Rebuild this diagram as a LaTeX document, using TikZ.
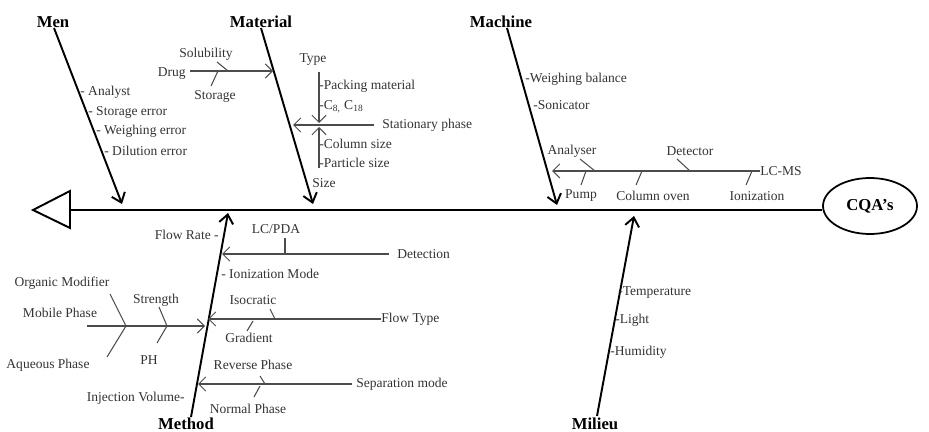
\documentclass[tikz,border=0pt]{standalone}
\usepackage{fontspec}
\setmainfont{Liberation Serif}
\usepackage{xcolor}
\usepackage{tikz}
\usetikzlibrary{shapes,arrows.meta,positioning}

\begin{document}
\begin{tikzpicture}[x=0.02cm, y=-0.02cm]
    \tikzstyle{bone} = [draw, line width=1.1pt, -{Straight Barb[length=5pt, width=8pt]}]
    \tikzstyle{branch} = [draw, line width=0.6pt, black!70, -{Straight Barb[length=4pt, width=8pt]}]
    \tikzstyle{twig} = [draw, line width=0.6pt, black!70]
    \tikzstyle{cause} = [font=\bfseries\fontsize{9.5}{11}\selectfont, inner sep=0pt]
    \tikzstyle{lbl} = [font=\fontsize{7.7}{9}\selectfont, text=black!80, inner sep=0pt]
    \tikzstyle{item} = [lbl, anchor=west]
    \useasboundingbox (0,0) rectangle (929,432);

    % head and tail
    \node [ellipse, draw, line width=1pt, minimum width=1.88cm, minimum height=1.12cm,
        font=\bfseries\fontsize{9.5}{11}\selectfont] (cqa) at (870,206) {CQA’s};
    \coordinate (tail) at (70,210);
    \draw [line width=1.1pt] (70,191) -- (33,210) -- (70,228) -- cycle;
    \path [draw, line width=1.4pt] (cqa.west |- tail) -- (tail);

    % Men
    \node [cause] (men) at (53,22) {Men};
    \coordinate (men0) at (54,28);
    \coordinate (men1) at (122,204);
    \path [bone] (men0) -- (men1);
    \node [item] (analyst) at (80,92) {- Analyst};
    \node [item] (storerr) at (88,112) {- Storage error};
    \node [item] (weigherr) at (96,131) {- Weighing error};
    \node [item] (diluerr) at (104,151) {- Dilution error};

    % Material
    \node [cause] (material) at (261,22) {Material};
    \coordinate (mat0) at (261,28);
    \coordinate (mat1) at (313,204);
    \path [bone] (mat0) -- (mat1);
    \node [lbl, anchor=east] (drug) at (186,74) {Drug};
    \coordinate (drug1) at (273,71);
    \path [branch] (drug.east |- drug1) ++(4,0) -- (drug1);
    \node [lbl] (solub) at (206,54) {Solubility};
    \node [lbl] (storage) at (215,96) {Storage};
    \coordinate (solub0) at (217,62);
    \coordinate (solub1) at (228,71);
    \coordinate (stor0) at (211,86);
    \coordinate (stor1) at (218,71);
    \path [twig] (solub0) -- (solub1);
    \path [twig] (stor0) -- (stor1);
    \node [item] (statph) at (382,125) {Stationary phase};
    \coordinate (stat1) at (293,125);
    \path [branch] (statph.west) ++(-8,0) coordinate (stat0) -- (stat1);
    \node [lbl] (type) at (313,60) {Type};
    \node [lbl] (size) at (324,183) {Size};
    \coordinate (type0) at (319,72);
    \coordinate (type1) at (319,123);
    \coordinate (size0) at (319,168);
    \coordinate (size1) at (319,127);
    \path [branch] (type0) -- (type1);
    \path [branch] (size0) -- (size1);
    \node [item] (packing) at (319,86) {-Packing material};
    \node [item] (c818) at (319,107) {-C\textsubscript{8,} C\textsubscript{18}};
    \node [item] (colsize) at (319,144) {-Column size};
    \node [item] (partsize) at (319,163) {-Particle size};

    % Machine
    \node [cause] (machine) at (501,22) {Machine};
    \coordinate (mach0) at (507,28);
    \coordinate (mach1) at (557,205);
    \path [bone] (mach0) -- (mach1);
    \node [item] (balance) at (525,79) {-Weighing balance};
    \node [item] (sonic) at (533,105) {-Sonicator};
    \node [item] (lcms) at (760,171) {LC-MS};
    \coordinate (lcms1) at (552,171);
    \path [branch] (lcms.west) -- (lcms1);
    \node [lbl] (analyser) at (572,151) {Analyser};
    \node [lbl] (detector) at (690,151) {Detector};
    \node [lbl] (pump) at (581,196) {Pump};
    \node [lbl] (colov) at (653,196) {Column oven};
    \node [lbl] (ioniz) at (757,196) {Ionization};
    \path [twig] (580,159) coordinate (an0) -- (595,171) coordinate (an1);
    \path [twig] (677,159) coordinate (de0) -- (690,171) coordinate (de1);
    \path [twig] (581,185) coordinate (pu0) -- (586,171) coordinate (pu1);
    \path [twig] (636,185) coordinate (co0) -- (642,171) coordinate (co1);
    \path [twig] (746,185) coordinate (io0) -- (752,171) coordinate (io1);

    % Method
    \node [cause] (method) at (186,424) {Method};
    \coordinate (meth0) at (191,417);
    \coordinate (meth1) at (228,213);
    \path [bone] (meth0) -- (meth1);
    \node [lbl, anchor=east] (flowrate) at (219,235) {Flow Rate -};
    \node [item] (detect) at (397,254) {Detection};
    \coordinate (det1) at (222,254);
    \path [branch] (detect.west) ++(-8,0) -- (det1);
    \node [lbl] (lcpda) at (276,229) {LC/PDA};
    \path [twig] (285,238) coordinate (pda0) -- (285,254) coordinate (pda1);
    \node [item] (ionmode) at (221,274) {- Ionization Mode};
    \node [item] (flowtype) at (381,319) {Flow Type};
    \coordinate (ft1) at (208,319);
    \path [branch] (flowtype.west) -- (ft1);
    \node [lbl] (isocr) at (253,300) {Isocratic};
    \node [lbl] (grad) at (249,338) {Gradient};
    \path [twig] (270,309) coordinate (is0) -- (275,319) coordinate (is1);
    \path [twig] (247,331) coordinate (gr0) -- (253,321) coordinate (gr1);
    \coordinate (mob0) at (87,326);
    \coordinate (mob1) at (205,326);
    \path [branch] (mob0) -- (mob1);
    \node [lbl] (orgmod) at (62,283) {Organic Modifier};
    \node [lbl] (mobph) at (60,313) {Mobile Phase};
    \node [lbl] (aqph) at (48,365) {Aqueous Phase};
    \node [lbl] (strength) at (156,300) {Strength};
    \node [lbl] (ph) at (149,360) {PH};
    \path [twig] (110,294) coordinate (om0) -- (126,326) coordinate (om1);
    \path [twig] (107,357) coordinate (aq0) -- (om1);
    \path [twig] (159,307) coordinate (st0) -- (167,326) coordinate (st1);
    \path [twig] (157,343) coordinate (ph0) -- (st1);
    \node [item] (sepmode) at (356,384) {Separation mode};
    \coordinate (sep1) at (198,384);
    \path [branch] (sepmode.west) ++(-4,0) -- (sep1);
    \node [lbl] (revph) at (253,365) {Reverse Phase};
    \node [lbl] (normph) at (248,409) {Normal Phase};
    \path [twig] (260,376) coordinate (rp0) -- (265,384) coordinate (rp1);
    \path [twig] (254,397) coordinate (np0) -- (260,386) coordinate (np1);
    \node [lbl, anchor=east] (injvol) at (185,398) {Injection Volume-};

    % Milieu
    \node [cause] (milieu) at (595,424) {Milieu};
    \coordinate (mil0) at (597,416);
    \coordinate (mil1) at (634,216);
    \path [bone] (mil0) -- (mil1);
    \node [item] (temp) at (618,293) {-Temperature};
    \node [item] (light) at (615,320) {-Light};
    \node [item] (humid) at (610,352) {-Humidity};
\end{tikzpicture}
\end{document}
